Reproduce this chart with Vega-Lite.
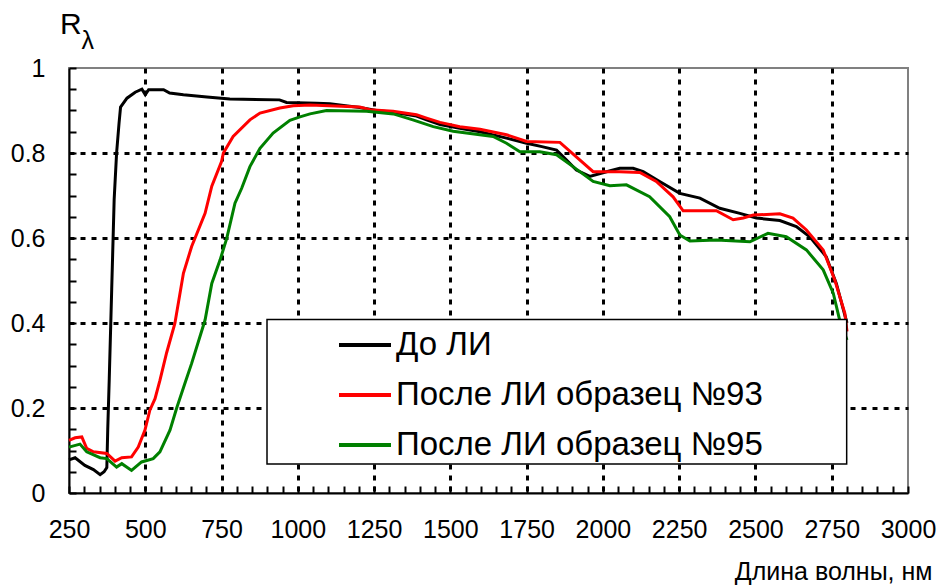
{
  "$schema": "https://vega.github.io/schema/vega-lite/v6.json",
  "width": 839,
  "height": 425,
  "autosize": "none",
  "padding": {"left": 69, "top": 68, "right": 31, "bottom": 92},
  "background": "white",
  "config": {
    "font": "Liberation Sans",
    "view": {"stroke": "#808080", "strokeWidth": 2}
  },
  "title": {"text": "R", "anchor": "start", "frame": "group", "fontSize": 30, "fontWeight": "normal", "color": "black", "dx": -9, "offset": -36, "baseline": "alphabetic"},
  "resolve": {"axis": {"x": "independent", "y": "independent"}},
  "layer": [
    {
      "data": {
        "values": [
          {"s": "До ЛИ", "wl": 250, "r": 0.078}, {"s": "До ЛИ", "wl": 270, "r": 0.083}, {"s": "До ЛИ", "wl": 302, "r": 0.065}, {"s": "До ЛИ", "wl": 330, "r": 0.055}, {"s": "До ЛИ", "wl": 352, "r": 0.043}, {"s": "До ЛИ", "wl": 365, "r": 0.05}, {"s": "До ЛИ", "wl": 374, "r": 0.06}, {"s": "До ЛИ", "wl": 377, "r": 0.15}, {"s": "До ЛИ", "wl": 382, "r": 0.27}, {"s": "До ЛИ", "wl": 390, "r": 0.48}, {"s": "До ЛИ", "wl": 398, "r": 0.69}, {"s": "До ЛИ", "wl": 406, "r": 0.8}, {"s": "До ЛИ", "wl": 414, "r": 0.87}, {"s": "До ЛИ", "wl": 419, "r": 0.908}, {"s": "До ЛИ", "wl": 440, "r": 0.929}, {"s": "До ЛИ", "wl": 467, "r": 0.943}, {"s": "До ЛИ", "wl": 489, "r": 0.95}, {"s": "До ЛИ", "wl": 500, "r": 0.937}, {"s": "До ЛИ", "wl": 511, "r": 0.949}, {"s": "До ЛИ", "wl": 560, "r": 0.949}, {"s": "До ЛИ", "wl": 580, "r": 0.941}, {"s": "До ЛИ", "wl": 625, "r": 0.937}, {"s": "До ЛИ", "wl": 702, "r": 0.932}, {"s": "До ЛИ", "wl": 777, "r": 0.927}, {"s": "До ЛИ", "wl": 940, "r": 0.925}, {"s": "До ЛИ", "wl": 963, "r": 0.919}, {"s": "До ЛИ", "wl": 1062, "r": 0.917}, {"s": "До ЛИ", "wl": 1105, "r": 0.916}, {"s": "До ЛИ", "wl": 1150, "r": 0.912}, {"s": "До ЛИ", "wl": 1203, "r": 0.907}, {"s": "До ЛИ", "wl": 1258, "r": 0.9}, {"s": "До ЛИ", "wl": 1312, "r": 0.896}, {"s": "До ЛИ", "wl": 1389, "r": 0.887}, {"s": "До ЛИ", "wl": 1422, "r": 0.878}, {"s": "До ЛИ", "wl": 1466, "r": 0.867}, {"s": "До ЛИ", "wl": 1531, "r": 0.858}, {"s": "До ЛИ", "wl": 1597, "r": 0.85}, {"s": "До ЛИ", "wl": 1684, "r": 0.835}, {"s": "До ЛИ", "wl": 1750, "r": 0.823}, {"s": "До ЛИ", "wl": 1800, "r": 0.815}, {"s": "До ЛИ", "wl": 1848, "r": 0.807}, {"s": "До ЛИ", "wl": 1880, "r": 0.784}, {"s": "До ЛИ", "wl": 1913, "r": 0.76}, {"s": "До ЛИ", "wl": 1957, "r": 0.745}, {"s": "До ЛИ", "wl": 2012, "r": 0.756}, {"s": "До ЛИ", "wl": 2055, "r": 0.764}, {"s": "До ЛИ", "wl": 2099, "r": 0.764}, {"s": "До ЛИ", "wl": 2132, "r": 0.756}, {"s": "До ЛИ", "wl": 2186, "r": 0.733}, {"s": "До ЛИ", "wl": 2252, "r": 0.705}, {"s": "До ЛИ", "wl": 2318, "r": 0.694}, {"s": "До ЛИ", "wl": 2383, "r": 0.67}, {"s": "До ЛИ", "wl": 2449, "r": 0.658}, {"s": "До ЛИ", "wl": 2503, "r": 0.647}, {"s": "До ЛИ", "wl": 2580, "r": 0.641}, {"s": "До ЛИ", "wl": 2634, "r": 0.627}, {"s": "До ЛИ", "wl": 2678, "r": 0.603}, {"s": "До ЛИ", "wl": 2732, "r": 0.556}, {"s": "До ЛИ", "wl": 2765, "r": 0.493}, {"s": "До ЛИ", "wl": 2800, "r": 0.4},
          {"s": "После ЛИ образец №93", "wl": 250, "r": 0.124}, {"s": "После ЛИ образец №93", "wl": 270, "r": 0.13}, {"s": "После ЛИ образец №93", "wl": 292, "r": 0.132}, {"s": "После ЛИ образец №93", "wl": 308, "r": 0.105}, {"s": "После ЛИ образец №93", "wl": 330, "r": 0.097}, {"s": "После ЛИ образец №93", "wl": 374, "r": 0.093}, {"s": "После ЛИ образец №93", "wl": 401, "r": 0.075}, {"s": "После ЛИ образец №93", "wl": 423, "r": 0.083}, {"s": "После ЛИ образец №93", "wl": 455, "r": 0.085}, {"s": "После ЛИ образец №93", "wl": 477, "r": 0.108}, {"s": "После ЛИ образец №93", "wl": 499, "r": 0.148}, {"s": "После ЛИ образец №93", "wl": 515, "r": 0.195}, {"s": "После ЛИ образец №93", "wl": 532, "r": 0.222}, {"s": "После ЛИ образец №93", "wl": 548, "r": 0.265}, {"s": "После ЛИ образец №93", "wl": 570, "r": 0.33}, {"s": "После ЛИ образец №93", "wl": 597, "r": 0.399}, {"s": "После ЛИ образец №93", "wl": 625, "r": 0.517}, {"s": "После ЛИ образец №93", "wl": 652, "r": 0.58}, {"s": "После ЛИ образец №93", "wl": 696, "r": 0.658}, {"s": "После ЛИ образец №93", "wl": 718, "r": 0.722}, {"s": "После ЛИ образец №93", "wl": 750, "r": 0.78}, {"s": "После ЛИ образец №93", "wl": 756, "r": 0.8}, {"s": "После ЛИ образец №93", "wl": 788, "r": 0.839}, {"s": "После ЛИ образец №93", "wl": 843, "r": 0.878}, {"s": "После ЛИ образец №93", "wl": 876, "r": 0.894}, {"s": "После ЛИ образец №93", "wl": 941, "r": 0.906}, {"s": "После ЛИ образец №93", "wl": 985, "r": 0.911}, {"s": "После ЛИ образец №93", "wl": 1040, "r": 0.913}, {"s": "После ЛИ образец №93", "wl": 1203, "r": 0.908}, {"s": "После ЛИ образец №93", "wl": 1236, "r": 0.902}, {"s": "После ЛИ образец №93", "wl": 1312, "r": 0.898}, {"s": "После ЛИ образец №93", "wl": 1389, "r": 0.89}, {"s": "После ЛИ образец №93", "wl": 1422, "r": 0.882}, {"s": "После ЛИ образец №93", "wl": 1466, "r": 0.872}, {"s": "После ЛИ образец №93", "wl": 1531, "r": 0.862}, {"s": "После ЛИ образец №93", "wl": 1597, "r": 0.856}, {"s": "После ЛИ образец №93", "wl": 1684, "r": 0.843}, {"s": "После ЛИ образец №93", "wl": 1750, "r": 0.827}, {"s": "После ЛИ образец №93", "wl": 1859, "r": 0.825}, {"s": "После ЛИ образец №93", "wl": 1968, "r": 0.756}, {"s": "После ЛИ образец №93", "wl": 2055, "r": 0.756}, {"s": "После ЛИ образец №93", "wl": 2121, "r": 0.754}, {"s": "После ЛИ образец №93", "wl": 2175, "r": 0.733}, {"s": "После ЛИ образец №93", "wl": 2230, "r": 0.697}, {"s": "После ЛИ образец №93", "wl": 2263, "r": 0.664}, {"s": "После ЛИ образец №93", "wl": 2372, "r": 0.664}, {"s": "После ЛИ образец №93", "wl": 2427, "r": 0.643}, {"s": "После ЛИ образец №93", "wl": 2460, "r": 0.647}, {"s": "После ЛИ образец №93", "wl": 2493, "r": 0.654}, {"s": "После ЛИ образец №93", "wl": 2580, "r": 0.657}, {"s": "После ЛИ образец №93", "wl": 2623, "r": 0.647}, {"s": "После ЛИ образец №93", "wl": 2667, "r": 0.619}, {"s": "После ЛИ образец №93", "wl": 2722, "r": 0.572}, {"s": "После ЛИ образец №93", "wl": 2760, "r": 0.501}, {"s": "После ЛИ образец №93", "wl": 2793, "r": 0.423}, {"s": "После ЛИ образец №93", "wl": 2800, "r": 0.38},
          {"s": "После ЛИ образец №95", "wl": 250, "r": 0.108}, {"s": "После ЛИ образец №95", "wl": 286, "r": 0.115}, {"s": "После ЛИ образец №95", "wl": 308, "r": 0.097}, {"s": "После ЛИ образец №95", "wl": 352, "r": 0.083}, {"s": "После ЛИ образец №95", "wl": 374, "r": 0.081}, {"s": "После ЛИ образец №95", "wl": 406, "r": 0.061}, {"s": "После ЛИ образец №95", "wl": 423, "r": 0.069}, {"s": "После ЛИ образец №95", "wl": 455, "r": 0.053}, {"s": "После ЛИ образец №95", "wl": 488, "r": 0.073}, {"s": "После ЛИ образец №95", "wl": 526, "r": 0.081}, {"s": "После ЛИ образец №95", "wl": 548, "r": 0.097}, {"s": "После ЛИ образец №95", "wl": 581, "r": 0.148}, {"s": "После ЛИ образец №95", "wl": 603, "r": 0.2}, {"s": "После ЛИ образец №95", "wl": 630, "r": 0.258}, {"s": "После ЛИ образец №95", "wl": 652, "r": 0.305}, {"s": "После ЛИ образец №95", "wl": 696, "r": 0.407}, {"s": "После ЛИ образец №95", "wl": 718, "r": 0.493}, {"s": "После ЛИ образец №95", "wl": 745, "r": 0.548}, {"s": "После ЛИ образец №95", "wl": 767, "r": 0.599}, {"s": "После ЛИ образец №95", "wl": 794, "r": 0.682}, {"s": "После ЛИ образец №95", "wl": 816, "r": 0.717}, {"s": "После ЛИ образец №95", "wl": 843, "r": 0.768}, {"s": "После ЛИ образец №95", "wl": 876, "r": 0.811}, {"s": "После ЛИ образец №95", "wl": 919, "r": 0.847}, {"s": "После ЛИ образец №95", "wl": 974, "r": 0.877}, {"s": "После ЛИ образец №95", "wl": 1007, "r": 0.885}, {"s": "После ЛИ образец №95", "wl": 1040, "r": 0.892}, {"s": "После ЛИ образец №95", "wl": 1094, "r": 0.9}, {"s": "После ЛИ образец №95", "wl": 1225, "r": 0.898}, {"s": "После ЛИ образец №95", "wl": 1313, "r": 0.892}, {"s": "После ЛИ образец №95", "wl": 1377, "r": 0.878}, {"s": "После ЛИ образец №95", "wl": 1444, "r": 0.862}, {"s": "После ЛИ образец №95", "wl": 1509, "r": 0.851}, {"s": "После ЛИ образец №95", "wl": 1640, "r": 0.839}, {"s": "После ЛИ образец №95", "wl": 1684, "r": 0.823}, {"s": "После ЛИ образец №95", "wl": 1728, "r": 0.803}, {"s": "После ЛИ образец №95", "wl": 1793, "r": 0.803}, {"s": "После ЛИ образец №95", "wl": 1848, "r": 0.796}, {"s": "После ЛИ образец №95", "wl": 1902, "r": 0.768}, {"s": "После ЛИ образец №95", "wl": 1968, "r": 0.733}, {"s": "После ЛИ образец №95", "wl": 2023, "r": 0.723}, {"s": "После ЛИ образец №95", "wl": 2077, "r": 0.725}, {"s": "После ЛИ образец №95", "wl": 2153, "r": 0.697}, {"s": "После ЛИ образец №95", "wl": 2219, "r": 0.65}, {"s": "После ЛИ образец №95", "wl": 2252, "r": 0.607}, {"s": "После ЛИ образец №95", "wl": 2285, "r": 0.593}, {"s": "После ЛИ образец №95", "wl": 2372, "r": 0.595}, {"s": "После ЛИ образец №95", "wl": 2482, "r": 0.591}, {"s": "После ЛИ образец №95", "wl": 2541, "r": 0.611}, {"s": "После ЛИ образец №95", "wl": 2601, "r": 0.603}, {"s": "После ЛИ образец №95", "wl": 2667, "r": 0.572}, {"s": "После ЛИ образец №95", "wl": 2722, "r": 0.525}, {"s": "После ЛИ образец №95", "wl": 2755, "r": 0.47}, {"s": "После ЛИ образец №95", "wl": 2776, "r": 0.407}, {"s": "После ЛИ образец №95", "wl": 2800, "r": 0.36}
        ]
      },
      "mark": {"type": "line", "strokeWidth": 3},
      "encoding": {
        "x": {
          "field": "wl", "type": "quantitative",
          "scale": {"domain": [250, 3000], "nice": false, "zero": false},
          "axis": {
            "orient": "bottom",
            "values": [250,300,350,400,450,500,550,600,650,700,750,800,850,900,950,1000,1050,1100,1150,1200,1250,1300,1350,1400,1450,1500,1550,1600,1650,1700,1750,1800,1850,1900,1950,2000,2050,2100,2150,2200,2250,2300,2350,2400,2450,2500,2550,2600,2650,2700,2750,2800,2850,2900,2950,3000],
            "tickCount": 100,
            "labelExpr": "datum.value % 250 === 0 ? datum.label : ''",
            "format": "d",
            "labelOverlap": false, "labelFlush": false,
            "labelFontSize": 25, "labelColor": "black", "labelPadding": 24,
            "domainColor": "black", "domainWidth": 2,
            "ticks": false,
            "grid": true,
            "gridOpacity": {"condition": {"test": "datum.value % 250 === 0 && datum.value > 250 && datum.value < 3000", "value": 1}, "value": 0},
            "gridColor": "black", "gridWidth": 3, "gridDash": [5, 6],
            "title": "Длина волны, нм",
            "titleFontSize": 25, "titleFontWeight": "normal", "titleColor": "black",
            "titleX": 863, "titleY": 78, "titleAlign": "right", "titleBaseline": "middle"
          }
        },
        "y": {
          "field": "r", "type": "quantitative",
          "scale": {"domain": [0, 1], "nice": false},
          "axis": {
            "orient": "left",
            "values": [0,0.05,0.1,0.15,0.2,0.25,0.3,0.35,0.4,0.45,0.5,0.55,0.6,0.65,0.7,0.75,0.8,0.85,0.9,0.95,1],
            "tickCount": 100,
            "labelExpr": "abs(datum.value*5 - round(datum.value*5)) < 0.000001 ? format(datum.value, '~g') : ''",
            "labelOverlap": false, "labelFlush": false,
            "labelFontSize": 25, "labelColor": "black", "labelPadding": 24,
            "domainColor": "black", "domainWidth": 2,
            "ticks": false,
            "grid": true,
            "gridOpacity": {"condition": {"test": "abs(datum.value*5 - round(datum.value*5)) < 0.000001 && datum.value > 0.01 && datum.value < 0.99", "value": 1}, "value": 0},
            "gridColor": "black", "gridWidth": 3, "gridDash": [5, 6],
            "title": "λ",
            "titleFontSize": 25, "titleFontWeight": "normal", "titleColor": "black",
            "titleAngle": 0, "titleX": 12, "titleY": -20, "titleAlign": "left", "titleBaseline": "alphabetic"
          }
        },
        "color": {
          "field": "s", "type": "nominal",
          "scale": {"domain": ["До ЛИ", "После ЛИ образец №93", "После ЛИ образец №95"], "range": ["#000000", "#ff0000", "#008000"]},
          "legend": {
            "title": null, "orient": "none", "legendX": 268, "legendY": 249,
            "symbolType": "stroke", "symbolSize": 2704, "symbolStrokeWidth": 4,
            "labelFontSize": 33, "labelColor": "black", "labelOffset": 3, "labelLimit": 700,
            "rowPadding": 5, "padding": 0
          }
        }
      }
    },
    {
      "data": {"values": [{}]},
      "mark": {"type": "rect", "fill": "white", "stroke": "black", "strokeWidth": 1.5},
      "encoding": {
        "x": {
          "datum": 899, "type": "quantitative",
          "axis": {
            "orient": "bottom", "offset": -7, "zindex": 2,
            "values": [250,300,350,400,450,500,550,600,650,700,750,800,850,900,950,1000,1050,1100,1150,1200,1250,1300,1350,1400,1450,1500,1550,1600,1650,1700,1750,1800,1850,1900,1950,2000,2050,2100,2150,2200,2250,2300,2350,2400,2450,2500,2550,2600,2650,2700,2750,2800,2850,2900,2950,3000],
            "tickCount": 100,
            "domain": false, "labels": false, "grid": false, "title": null,
            "ticks": true, "tickSize": 7, "tickColor": "black", "tickWidth": 2
          }
        },
        "x2": {"datum": 2799},
        "y": {
          "datum": 0.408, "type": "quantitative",
          "axis": {
            "orient": "left", "offset": -7, "zindex": 2,
            "values": [0,0.05,0.1,0.15,0.2,0.25,0.3,0.35,0.4,0.45,0.5,0.55,0.6,0.65,0.7,0.75,0.8,0.85,0.9,0.95,1],
            "tickCount": 100,
            "domain": false, "labels": false, "grid": false, "title": null,
            "ticks": true, "tickSize": 7, "tickColor": "black", "tickWidth": 2
          }
        },
        "y2": {"datum": 0.068}
      }
    }
  ]
}
